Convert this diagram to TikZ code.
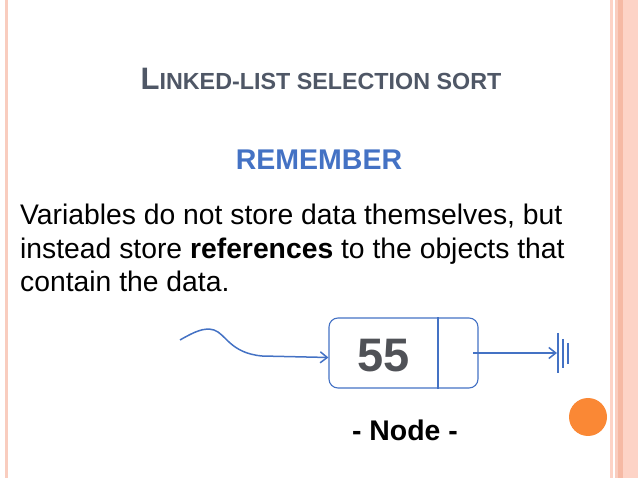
\documentclass[tikz,border=0pt]{standalone}
\usepackage{fontspec}
\setmainfont{Liberation Sans}
\usetikzlibrary{arrows.meta}
\definecolor{stripe}{HTML}{F9CDBF}
\definecolor{stripedark}{HTML}{F6B9A4}
\definecolor{stripelight}{HTML}{FDD3C6}
\definecolor{titlegray}{HTML}{4F5766}
\definecolor{linkblue}{HTML}{4472C4}
\definecolor{dotorange}{HTML}{FA8835}
\definecolor{numgray}{HTML}{505257}
\begin{document}
\begin{tikzpicture}[x=1pt,y=-1pt,
  link/.style={draw=linkblue,line width=1.5pt},
  nodebox/.style={draw=linkblue,line width=1.1pt,rounded corners=9pt,minimum width=149pt,minimum height=70pt,inner sep=0pt}]
\useasboundingbox (0,0) rectangle (638,478);

% slide borders
\fill[stripe] (5,0) rectangle (8,478);
\fill[stripelight] (609.5,0) rectangle (612.5,478);
\fill[stripe] (615,0) rectangle (618,478);
\fill[stripedark] (618,0) rectangle (623,478);
\fill[stripelight] (623,0) rectangle (638,478);

% title and text
\node[anchor=base,text=titlegray,font=\bfseries] (title) at (321,90)
  {\fontsize{31}{33}\selectfont L\fontsize{23.3}{26}\selectfont INKED-\fontsize{23.3}{26}\selectfont LIST SELECTION SORT};
\node[text=linkblue,font=\bfseries\fontsize{28.5}{32}\selectfont] (rem) at (319,160) {REMEMBER};
\node[anchor=base west,align=left,inner sep=0pt,font=\fontsize{28.3}{33.5}\selectfont] (body) at (20,292)
  {Variables do not store data themselves, but\\
   instead store \textbf{references} to the objects that\\
   contain the data.};

% the node
\node[nodebox] (box) at (403.5,353) {};
\node[text=numgray,font=\bfseries\fontsize{47}{50}\selectfont] (val) at (384,356) {55};
\path[draw=linkblue,line width=1.1pt] (box.north -| 438,0) -- (box.south -| 438,0);
\node[font=\bfseries\fontsize{28.4}{30}\selectfont] (cap) at (405,430) {- Node -};

% incoming reference
\coordinate (var) at (180,340);
\draw[link,-{Straight Barb[length=7pt,width=11pt]}] (var) .. controls (194,332) and (204,327) .. (214,330)
  .. controls (226,334) and (230,353) .. (262,356) -- (box.west |- 0,357.5);

% next pointer to null
\coordinate (ptr) at (473,353);
\coordinate (gnd) at (557,353);
\draw[link,-{Straight Barb[length=7pt,width=11pt]}] (ptr) -- (gnd);
\draw[link] (558,333) -- (558,373);
\draw[link] (563,339) -- (563,368);
\draw[link] (568,343) -- (568,364);

\fill[dotorange] (588,417) circle (19);
\end{tikzpicture}
\end{document}
